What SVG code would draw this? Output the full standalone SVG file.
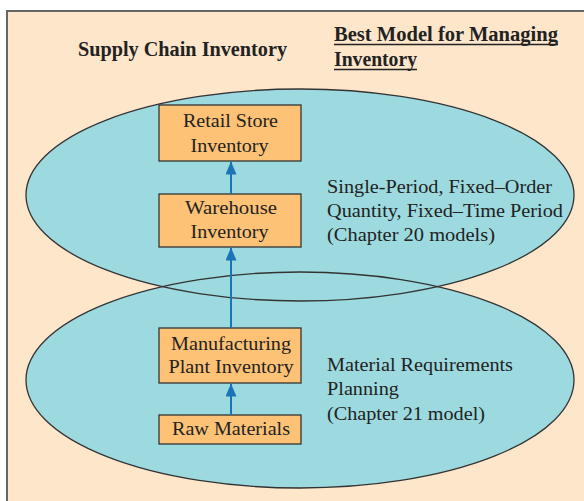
<svg xmlns="http://www.w3.org/2000/svg" width="584" height="501" viewBox="0 0 584 501">
  <style>
    .frame { fill: #fee6cb; stroke: #666666; stroke-width: 2; }
    .zone { fill: #9cdadf; stroke: none; }
    .zone-edge { fill: none; stroke: #333333; stroke-width: 1.3; }
    .box { fill: #fdc276; stroke: #333333; stroke-width: 1.3; }
    .head { font-family: "Liberation Serif", "Times New Roman", serif; font-weight: bold; font-size: 20px; fill: #222222; }
    .label { font-family: "Liberation Serif", "Times New Roman", serif; font-size: 18px; fill: #222222; }
    .mid { text-anchor: middle; }
    .rule { stroke: #222222; stroke-width: 1.5; }
    .flow { stroke: #1b74b8; stroke-width: 2; fill: none; marker-end: url(#arrow); }
  </style>
  <defs>
    <marker id="arrow" markerUnits="userSpaceOnUse" markerWidth="13" markerHeight="11" refX="13" refY="5.5" orient="auto">
      <path d="M0,0 L13,5.5 L0,11 z" fill="#1b74b8"/>
    </marker>
  </defs>

  <rect x="0" y="0" width="584" height="501" fill="#ffffff"/>
  <rect class="frame" x="7" y="11" width="600" height="500"/>

  <!-- headings -->
  <g id="heading-left">
    <text class="head" x="78" y="56" textLength="209" lengthAdjust="spacingAndGlyphs">Supply Chain Inventory</text>
  </g>
  <g id="heading-right">
    <text class="head" x="334" y="41" textLength="224" lengthAdjust="spacingAndGlyphs">Best Model for Managing</text>
    <line class="rule" x1="334" y1="44.5" x2="558" y2="44.5"/>
    <text class="head" x="334" y="66" textLength="83" lengthAdjust="spacingAndGlyphs">Inventory</text>
    <line class="rule" x1="334" y1="69.5" x2="417" y2="69.5"/>
  </g>

  <!-- model regions: fills first, outlines on top so both edges show in the overlap -->
  <g id="regions">
    <ellipse class="zone" cx="300" cy="195" rx="274" ry="106"/>
    <ellipse class="zone" cx="300" cy="380" rx="274" ry="108"/>
    <ellipse class="zone-edge" cx="300" cy="195" rx="274" ry="106"/>
    <ellipse class="zone-edge" cx="300" cy="380" rx="274" ry="108"/>
  </g>

  <g id="region-upper-label">
    <text class="label" x="327" y="193" textLength="225" lengthAdjust="spacingAndGlyphs">Single-Period, Fixed–Order</text>
    <text class="label" x="327" y="217" textLength="236" lengthAdjust="spacingAndGlyphs">Quantity, Fixed–Time Period</text>
    <text class="label" x="327" y="241" textLength="168" lengthAdjust="spacingAndGlyphs">(Chapter 20 models)</text>
  </g>
  <g id="region-lower-label">
    <text class="label" x="327" y="371" textLength="186" lengthAdjust="spacingAndGlyphs">Material Requirements</text>
    <text class="label" x="327" y="395" textLength="72" lengthAdjust="spacingAndGlyphs">Planning</text>
    <text class="label" x="327" y="420" textLength="158" lengthAdjust="spacingAndGlyphs">(Chapter 21 model)</text>
  </g>

  <!-- inventory stages -->
  <g id="retail">
    <rect class="box" x="159" y="105" width="142" height="56"/>
    <text class="label mid" x="230.5" y="127" textLength="95" lengthAdjust="spacingAndGlyphs">Retail Store</text>
    <text class="label mid" x="229.5" y="152" textLength="78" lengthAdjust="spacingAndGlyphs">Inventory</text>
  </g>
  <g id="warehouse">
    <rect class="box" x="159" y="194" width="142" height="53"/>
    <text class="label mid" x="231" y="214" textLength="92" lengthAdjust="spacingAndGlyphs">Warehouse</text>
    <text class="label mid" x="229.5" y="238" textLength="78" lengthAdjust="spacingAndGlyphs">Inventory</text>
  </g>
  <g id="manufacturing">
    <rect class="box" x="159" y="328" width="142" height="55"/>
    <text class="label mid" x="231" y="350" textLength="120" lengthAdjust="spacingAndGlyphs">Manufacturing</text>
    <text class="label mid" x="231" y="373" textLength="125" lengthAdjust="spacingAndGlyphs">Plant Inventory</text>
  </g>
  <g id="raw-materials">
    <rect class="box" x="159" y="415" width="142" height="29"/>
    <text class="label mid" x="231" y="435" textLength="118" lengthAdjust="spacingAndGlyphs">Raw Materials</text>
  </g>

  <g id="connectors">
    <line class="flow" x1="231" y1="194" x2="231" y2="161.5"/>
    <line class="flow" x1="231" y1="328" x2="231" y2="247.5"/>
    <line class="flow" x1="231" y1="415" x2="231" y2="383.5"/>
  </g>
</svg>
